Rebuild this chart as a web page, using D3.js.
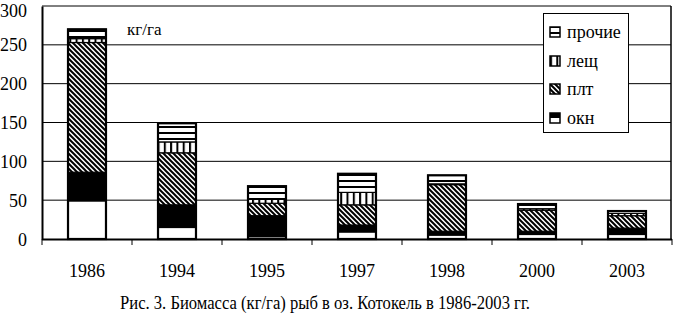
<!DOCTYPE html>
<html>
<head>
<meta charset="utf-8">
<script src="https://cdn.jsdelivr.net/npm/d3@7"></script>
<style>
  body { margin: 0; background: #fff; }
  text { font-family: "Liberation Serif", "Times New Roman", serif; fill: #000; }
</style>
</head>
<body>
<div id="chart"></div>
<script>
// données (кг/га)
var years = ["1986", "1994", "1995", "1997", "1998", "2000", "2003"];
var okn = [86, 44, 30, 18, 10, 10, 14];
var oknLight = [48, 14, 2, 8, 4, 5, 5]; // partie claire du motif окн
var plt = [167, 67, 16, 26, 60, 27, 16];
var lesch = [5, 14, 5, 16, 1, 2, 3];
var prochie = [12, 24, 17, 24, 11, 6, 3];
var yTicks = [0, 50, 100, 150, 200, 250, 300];

var width = 673, height = 315;
var plot = {left: 42, right: 671, top: 6, bottom: 239};

var series = [
  {key: "okn", name: "окн", fill: "#000"},
  {key: "plt", name: "плт", fill: "url(#hatch)"},
  {key: "lesch", name: "лещ", fill: "url(#vstripe)"},
  {key: "prochie", name: "прочие", fill: "url(#hstripe)"}
];

var rows = years.map(function(y, i) {
  return {year: y, okn: okn[i], plt: plt[i], lesch: lesch[i], prochie: prochie[i], light: oknLight[i]};
});

var svg = d3.select("#chart").append("svg")
  .attr("width", width).attr("height", height);

// motifs
var defs = svg.append("defs");
var h = defs.append("pattern").attr("id", "hatch").attr("patternUnits", "userSpaceOnUse")
  .attr("width", 5).attr("height", 5);
h.append("rect").attr("width", 5).attr("height", 5).attr("fill", "#fff");
h.append("path").attr("d", "M-1,-1 L6,6 M-4,1 L1,6 M4,-1 L9,4")
  .attr("stroke", "#000").attr("stroke-width", 2);

var v = defs.append("pattern").attr("id", "vstripe").attr("patternUnits", "userSpaceOnUse")
  .attr("width", 6.3).attr("height", 6);
v.append("rect").attr("width", 6.3).attr("height", 6).attr("fill", "#fff");
v.append("rect").attr("width", 2).attr("height", 6).attr("fill", "#000");

var hs = defs.append("pattern").attr("id", "hstripe").attr("patternUnits", "userSpaceOnUse")
  .attr("width", 6).attr("height", 6);
hs.append("rect").attr("width", 6).attr("height", 6).attr("fill", "#fff");
hs.append("rect").attr("width", 6).attr("height", 2).attr("fill", "#000");

var x = d3.scaleBand().domain(years).range([plot.left, plot.left + 630])
  .paddingInner(0.578).paddingOuter(0.289);
var y = d3.scaleLinear().domain([0, 300]).range([plot.bottom, plot.top]);

// grille
svg.append("g").selectAll("line").data(yTicks.filter(function(d) { return d > 0; }))
  .enter().append("line")
  .attr("x1", plot.left).attr("x2", plot.right)
  .attr("y1", function(d) { return y(d); }).attr("y2", function(d) { return y(d); })
  .attr("stroke", "#000").attr("stroke-width", 1);

svg.append("line").attr("x1", plot.right).attr("x2", plot.right)
  .attr("y1", plot.top).attr("y2", plot.bottom).attr("stroke", "#000").attr("stroke-width", 1.5);

// axe Y
var yAxis = d3.axisLeft(y).tickValues(yTicks).tickSize(0).tickPadding(15);
var ya = svg.append("g").attr("transform", "translate(" + plot.left + ",0)").call(yAxis);
ya.attr("font-family", null);
ya.select(".domain").attr("stroke", "#000").attr("stroke-width", 2);
ya.selectAll("text").style("font-size", "18px").attr("dy", function(d) { return d === 300 ? "0.6em" : "0.34em"; });

// axe X : traits entre catégories
var bounds = d3.range(years.length + 1).map(function(i) { return plot.left + i * x.step(); });
svg.append("line").attr("x1", plot.left).attr("x2", plot.left + 630)
  .attr("y1", plot.bottom + 0.5).attr("y2", plot.bottom + 0.5)
  .attr("stroke", "#000").attr("stroke-width", 2);
svg.append("g").selectAll("line").data(bounds).enter().append("line")
  .attr("x1", function(d) { return d; }).attr("x2", function(d) { return d; })
  .attr("y1", plot.bottom).attr("y2", plot.bottom + 6)
  .attr("stroke", "#000").attr("stroke-width", 1);

svg.append("g").selectAll("text").data(years).enter().append("text")
  .attr("x", function(d) { return x(d) + x.bandwidth() / 2; })
  .attr("y", 277).attr("text-anchor", "middle").style("font-size", "18px")
  .text(function(d) { return d; });

// barres empilées
var stack = d3.stack().keys(series.map(function(s) { return s.key; }));
var stacked = stack(rows);

var layers = svg.append("g").selectAll("g").data(stacked).enter().append("g")
  .attr("fill", function(d, i) { return series[i].fill; });

layers.selectAll("rect").data(function(d) { return d; }).enter().append("rect")
  .attr("x", function(d) { return x(d.data.year); })
  .attr("width", x.bandwidth())
  .attr("y", function(d) { return y(d[1]); })
  .attr("height", function(d) { return y(d[0]) - y(d[1]); })
  .attr("stroke", "#000").attr("stroke-width", 1.2);

// partie claire de окн
svg.append("g").selectAll("rect").data(rows).enter().append("rect")
  .attr("x", function(d) { return x(d.year) + 1; })
  .attr("width", x.bandwidth() - 2)
  .attr("y", function(d) { return y(d.light); })
  .attr("height", function(d) { return y(0) - y(d.light) - 1; })
  .attr("fill", "#fff");

// contour des barres
svg.append("g").selectAll("rect").data(rows).enter().append("rect")
  .attr("x", function(d) { return x(d.year); })
  .attr("width", x.bandwidth())
  .attr("y", function(d) { return y(d.okn + d.plt + d.lesch + d.prochie); })
  .attr("height", function(d) { return y(0) - y(d.okn + d.plt + d.lesch + d.prochie); })
  .attr("fill", "none").attr("stroke", "#000").attr("stroke-width", 2.2);

// unité
svg.append("text").attr("x", 127).attr("y", 35).style("font-size", "17px").text("кг/га");

// légende
var lg = svg.append("g");
lg.append("rect").attr("x", 543.5).attr("y", 13.5).attr("width", 85).attr("height", 119)
  .attr("fill", "#fff").attr("stroke", "#000").attr("stroke-width", 1);
var legendItems = series.slice().reverse();
var rowY = [32, 61, 89, 118];
var li = lg.selectAll("g.item").data(legendItems).enter().append("g")
  .attr("class", "item")
  .attr("transform", function(d, i) { return "translate(550," + rowY[i] + ")"; });
li.append("rect").attr("x", 0).attr("y", -5).attr("width", 10).attr("height", 10)
  .attr("fill", function(d) { return d.key === "okn" ? "#fff" : d.fill; })
  .attr("stroke", "#000").attr("stroke-width", 1.5);
li.filter(function(d) { return d.key === "okn"; }).append("rect")
  .attr("x", 0).attr("y", -5).attr("width", 10).attr("height", 5).attr("fill", "#000");
li.append("text").attr("x", 17).attr("dy", "0.35em").style("font-size", "18px")
  .text(function(d) { return d.name; });

// légende de la figure
svg.append("text").attr("x", 325).attr("y", 309).attr("text-anchor", "middle")
  .style("font-size", "18px").attr("textLength", 410).attr("lengthAdjust", "spacingAndGlyphs")
  .text("Рис. 3. Биомасса (кг/га) рыб в оз. Котокель в 1986-2003 гг.");
</script>
</body>
</html>
